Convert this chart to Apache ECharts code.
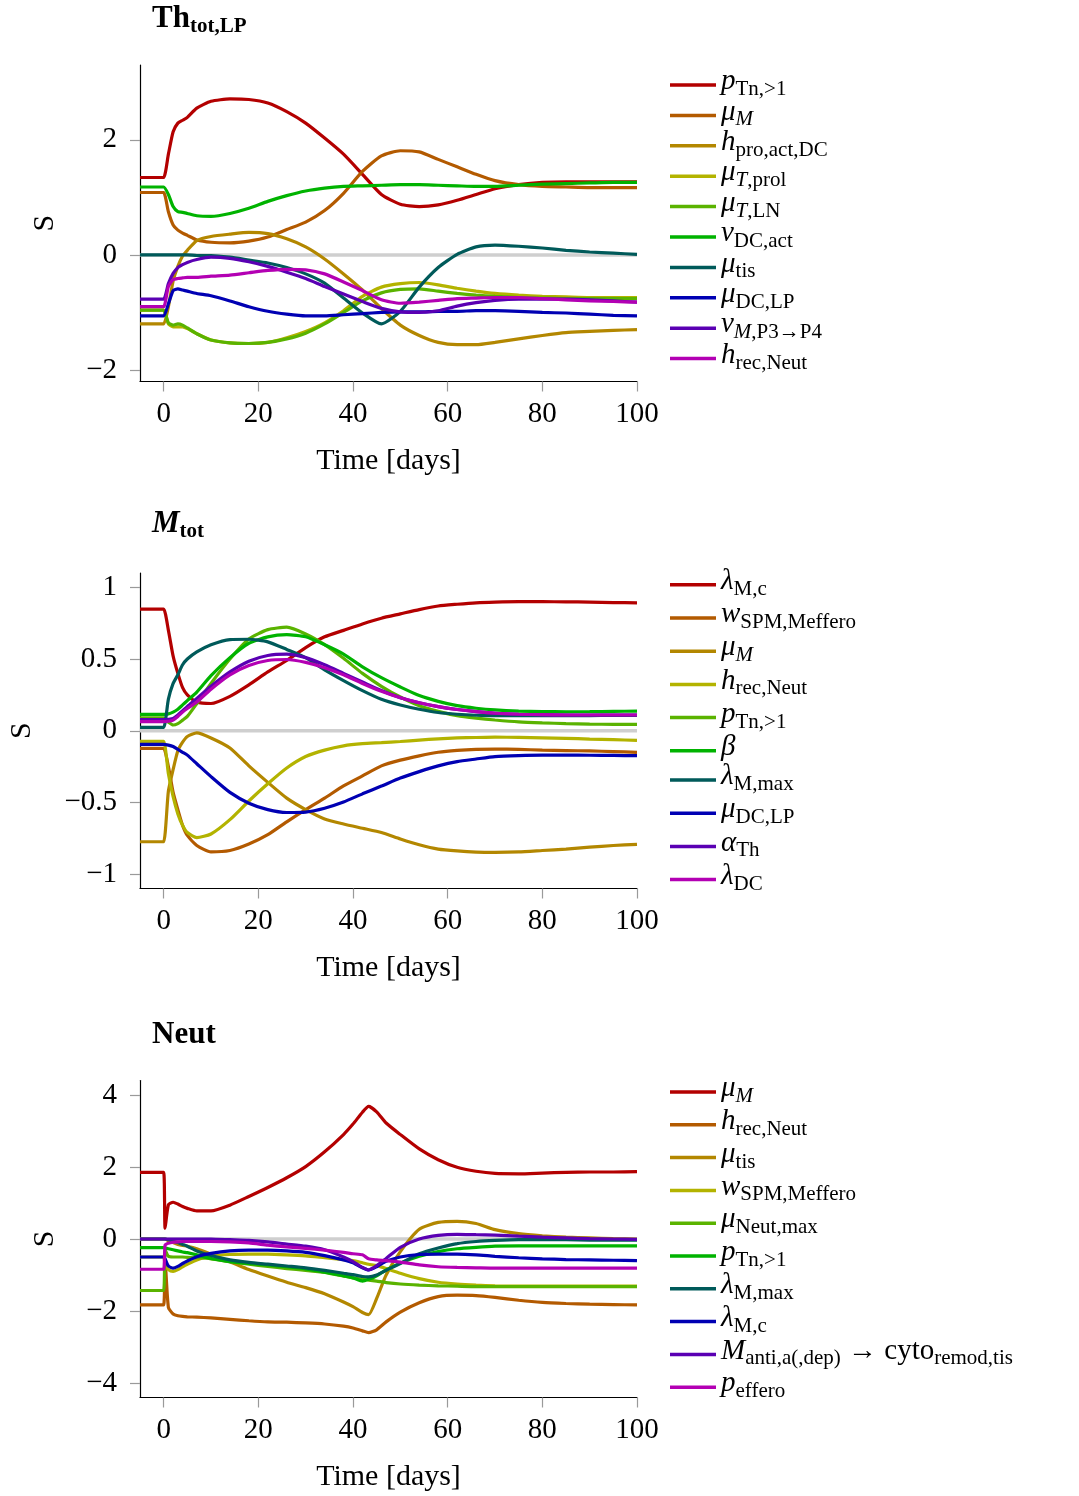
<!DOCTYPE html>
<html>
<head>
<meta charset="utf-8">
<script src="https://cdn.jsdelivr.net/npm/echarts@6/dist/echarts.min.js"></script>
<style>
  html, body { margin: 0; background: #fff; }
  #chart { width: 1079px; height: 1496px; }
</style>
</head>
<body>
<div id="chart"></div>
<script>
// ---- panel 1: Th_tot,LP ----
const thDays = [-5, -1, 0, 1, 2, 3, 4, 5, 7, 10, 14, 18, 22, 26, 30, 34, 38, 42, 46, 50, 54, 58, 62, 66, 70, 75, 80, 85, 90, 95, 100];
const th_pTn = [1.345, 1.345, 1.345, 1.75, 2.14, 2.29, 2.34, 2.39, 2.55, 2.67, 2.71, 2.70, 2.64, 2.49, 2.29, 2.03, 1.75, 1.40, 1.05, 0.88, 0.84, 0.87, 0.95, 1.05, 1.15, 1.22, 1.26, 1.27, 1.27, 1.27, 1.27];
const th_muM = [1.084, 1.084, 1.084, 0.75, 0.52, 0.43, 0.38, 0.34, 0.26, 0.22, 0.21, 0.24, 0.31, 0.44, 0.57, 0.77, 1.07, 1.45, 1.72, 1.81, 1.79, 1.66, 1.53, 1.40, 1.29, 1.22, 1.19, 1.18, 1.17, 1.17, 1.17];
const th_hPro = [-1.2, -1.2, -1.2, -0.9, -0.45, -0.2, -0.02, 0.08, 0.25, 0.32, 0.36, 0.39, 0.37, 0.28, 0.14, -0.07, -0.33, -0.61, -0.93, -1.22, -1.40, -1.52, -1.56, -1.56, -1.52, -1.46, -1.40, -1.35, -1.33, -1.31, -1.30];
const th_muTprol = [-0.96, -0.96, -0.96, -1.2, -1.25, -1.25, -1.25, -1.28, -1.37, -1.48, -1.53, -1.54, -1.52, -1.44, -1.33, -1.18, -0.97, -0.72, -0.56, -0.50, -0.48, -0.52, -0.58, -0.63, -0.67, -0.70, -0.72, -0.73, -0.74, -0.74, -0.74];
const th_muTLN = [-0.96, -0.96, -0.96, -1.18, -1.22, -1.2, -1.22, -1.27, -1.37, -1.48, -1.53, -1.54, -1.52, -1.46, -1.36, -1.2, -1.0, -0.8, -0.66, -0.60, -0.59, -0.63, -0.67, -0.70, -0.72, -0.74, -0.75, -0.76, -0.76, -0.76, -0.76];
const th_nuDC = [1.18, 1.18, 1.18, 1.05, 0.84, 0.75, 0.74, 0.72, 0.68, 0.67, 0.72, 0.81, 0.93, 1.03, 1.11, 1.16, 1.19, 1.20, 1.21, 1.22, 1.22, 1.21, 1.20, 1.19, 1.19, 1.21, 1.23, 1.24, 1.25, 1.26, 1.26];
const th_muTis = [0, 0, 0, 0, 0, 0, 0, 0, -0.01, -0.01, -0.04, -0.09, -0.14, -0.22, -0.33, -0.49, -0.75, -1.01, -1.2, -0.98, -0.56, -0.22, 0.01, 0.14, 0.17, 0.15, 0.12, 0.08, 0.05, 0.03, 0.01];
const th_muDC = [-1.06, -1.06, -1.06, -0.85, -0.62, -0.59, -0.61, -0.63, -0.67, -0.71, -0.80, -0.90, -0.98, -1.03, -1.06, -1.06, -1.04, -1.02, -1.00, -0.99, -0.99, -0.98, -0.98, -0.97, -0.97, -0.98, -1.0, -1.01, -1.03, -1.05, -1.06];
const th_nuM = [-0.77, -0.77, -0.77, -0.5, -0.32, -0.22, -0.17, -0.13, -0.08, -0.04, -0.06, -0.12, -0.2, -0.3, -0.41, -0.55, -0.68, -0.81, -0.93, -0.99, -1.0, -0.97, -0.89, -0.83, -0.79, -0.77, -0.77, -0.77, -0.78, -0.8, -0.82];
const th_hRec = [-0.9, -0.9, -0.9, -0.55, -0.43, -0.41, -0.40, -0.39, -0.39, -0.37, -0.35, -0.31, -0.27, -0.25, -0.26, -0.33, -0.47, -0.62, -0.78, -0.84, -0.82, -0.79, -0.76, -0.75, -0.74, -0.74, -0.76, -0.78, -0.8, -0.81, -0.82];
const thLabels = ['{i|p}{s|Tn,>1}', '{i|μ}{si|M}', '{i|h}{s|pro,act,DC}', '{i|μ}{si|T}{s|,prol}', '{i|μ}{si|T}{s|,LN}',
  '{i|ν}{s|DC,act}', '{i|μ}{s|tis}', '{i|μ}{s|DC,LP}', '{i|ν}{si|M}{s|,P3→P4}', '{i|h}{s|rec,Neut}'];

// ---- panel 2: M_tot ----
const mDays = thDays;
const m_lamMc = [0.848, 0.848, 0.848, 0.70, 0.52, 0.40, 0.30, 0.25, 0.20, 0.19, 0.24, 0.32, 0.41, 0.49, 0.58, 0.655, 0.70, 0.745, 0.785, 0.815, 0.845, 0.87, 0.882, 0.892, 0.897, 0.9, 0.9, 0.899, 0.897, 0.894, 0.892];
const m_wSPM = [-0.123, -0.123, -0.123, -0.25, -0.43, -0.55, -0.66, -0.73, -0.80, -0.845, -0.835, -0.79, -0.725, -0.635, -0.55, -0.47, -0.385, -0.315, -0.245, -0.205, -0.175, -0.15, -0.137, -0.13, -0.128, -0.13, -0.135, -0.138, -0.141, -0.145, -0.151];
const m_muM = [-0.774, -0.774, -0.774, -0.42, -0.27, -0.14, -0.08, -0.04, -0.015, -0.05, -0.12, -0.245, -0.36, -0.47, -0.55, -0.615, -0.65, -0.68, -0.71, -0.755, -0.795, -0.825, -0.838, -0.846, -0.848, -0.845, -0.835, -0.825, -0.812, -0.80, -0.792];
const m_hRec = [-0.074, -0.074, -0.074, -0.30, -0.46, -0.58, -0.66, -0.71, -0.745, -0.72, -0.62, -0.49, -0.37, -0.26, -0.18, -0.135, -0.105, -0.09, -0.083, -0.075, -0.065, -0.056, -0.05, -0.047, -0.045, -0.046, -0.049, -0.053, -0.058, -0.062, -0.067];
const m_pTn = [0.09, 0.09, 0.09, 0.06, 0.04, 0.05, 0.074, 0.10, 0.19, 0.33, 0.50, 0.64, 0.705, 0.722, 0.675, 0.60, 0.505, 0.40, 0.31, 0.235, 0.175, 0.135, 0.105, 0.088, 0.075, 0.062, 0.055, 0.05, 0.046, 0.045, 0.044];
const m_beta = [0.114, 0.114, 0.114, 0.118, 0.13, 0.15, 0.18, 0.21, 0.27, 0.385, 0.51, 0.61, 0.655, 0.67, 0.655, 0.60, 0.535, 0.446, 0.37, 0.305, 0.245, 0.205, 0.175, 0.157, 0.145, 0.137, 0.134, 0.132, 0.133, 0.135, 0.137];
const m_lamMmax = [0.023, 0.023, 0.023, 0.22, 0.33, 0.39, 0.46, 0.50, 0.55, 0.60, 0.636, 0.638, 0.62, 0.567, 0.51, 0.425, 0.35, 0.28, 0.22, 0.18, 0.15, 0.127, 0.115, 0.108, 0.105, 0.105, 0.105, 0.105, 0.106, 0.107, 0.107];
const m_muDC = [-0.095, -0.095, -0.095, -0.10, -0.11, -0.13, -0.15, -0.17, -0.23, -0.32, -0.43, -0.505, -0.55, -0.57, -0.567, -0.54, -0.497, -0.44, -0.386, -0.33, -0.285, -0.245, -0.215, -0.197, -0.18, -0.173, -0.17, -0.17, -0.171, -0.172, -0.174];
const m_alphaTh = [0.077, 0.077, 0.077, 0.08, 0.086, 0.11, 0.14, 0.17, 0.225, 0.31, 0.41, 0.485, 0.525, 0.534, 0.51, 0.46, 0.40, 0.34, 0.28, 0.23, 0.195, 0.168, 0.148, 0.133, 0.122, 0.115, 0.112, 0.11, 0.11, 0.11, 0.11];
const m_lamDC = [0.063, 0.063, 0.063, 0.066, 0.074, 0.10, 0.13, 0.155, 0.20, 0.29, 0.39, 0.455, 0.49, 0.497, 0.477, 0.44, 0.39, 0.33, 0.275, 0.23, 0.195, 0.168, 0.148, 0.133, 0.122, 0.115, 0.112, 0.11, 0.11, 0.11, 0.11];
const mLabels = ['{i|λ}{s|M,c}', '{i|w}{s|SPM,Meffero}', '{i|μ}{si|M}', '{i|h}{s|rec,Neut}', '{i|p}{s|Tn,>1}',
  '{i|β}', '{i|λ}{s|M,max}', '{i|μ}{s|DC,LP}', '{i|α}{s|Th}', '{i|λ}{s|DC}'];

// ---- panel 3: Neut ----
const nDays = [-5, -1, 0, 0.3, 1, 2, 3, 4, 5, 7, 10, 14, 18, 22, 26, 30, 34, 38, 40, 42, 43.3, 45, 47, 50, 54, 58, 62, 66, 70, 75, 80, 85, 90, 95, 100];
const n_muM = [1.85, 1.85, 1.85, 0.3, 0.95, 1.02, 0.97, 0.9, 0.85, 0.78, 0.78, 0.94, 1.18, 1.43, 1.7, 2.01, 2.42, 2.9, 3.19, 3.52, 3.68, 3.53, 3.22, 2.9, 2.5, 2.2, 1.99, 1.88, 1.82, 1.81, 1.83, 1.85, 1.86, 1.86, 1.87];
const n_hRec = [-1.83, -1.83, -1.83, -0.6, -1.9, -2.08, -2.13, -2.15, -2.16, -2.17, -2.19, -2.23, -2.27, -2.3, -2.31, -2.33, -2.36, -2.42, -2.47, -2.55, -2.6, -2.52, -2.3, -2.03, -1.77, -1.6, -1.56, -1.57, -1.62, -1.7, -1.76, -1.79, -1.81, -1.82, -1.83];
const n_muTis = [0, 0, 0, 0, -0.05, -0.1, -0.15, -0.18, -0.2, -0.27, -0.42, -0.63, -0.85, -1.03, -1.2, -1.35, -1.52, -1.75, -1.88, -2.04, -2.1, -1.65, -1.0, -0.35, 0.27, 0.46, 0.49, 0.43, 0.26, 0.15, 0.09, 0.05, 0.03, 0.01, 0];
const n_wSPM = [-0.5, -0.5, -0.5, -0.7, -0.85, -0.9, -0.85, -0.77, -0.7, -0.58, -0.47, -0.43, -0.42, -0.42, -0.44, -0.47, -0.52, -0.57, -0.6, -0.66, -0.7, -0.74, -0.82, -0.95, -1.1, -1.2, -1.25, -1.28, -1.3, -1.31, -1.31, -1.31, -1.31, -1.31, -1.31];
const n_muNeut = [-1.43, -1.43, -1.43, -0.3, -0.48, -0.5, -0.5, -0.5, -0.51, -0.52, -0.55, -0.63, -0.7, -0.76, -0.82, -0.87, -0.93, -1.03, -1.08, -1.12, -1.14, -1.17, -1.21, -1.25, -1.28, -1.3, -1.31, -1.32, -1.32, -1.32, -1.32, -1.32, -1.32, -1.32, -1.32];
const n_pTn = [-0.24, -0.24, -0.24, -0.25, -0.27, -0.3, -0.33, -0.36, -0.38, -0.44, -0.54, -0.63, -0.68, -0.72, -0.77, -0.83, -0.92, -1.02, -1.08, -1.17, -1.12, -1.02, -0.86, -0.67, -0.48, -0.35, -0.27, -0.23, -0.2, -0.19, -0.19, -0.19, -0.19, -0.19, -0.19];
const n_lamMmax = [0, 0, 0, 0, -0.02, -0.06, -0.1, -0.15, -0.2, -0.33, -0.46, -0.58, -0.65, -0.7, -0.75, -0.8, -0.87, -0.95, -0.99, -1.04, -1.05, -1.0, -0.87, -0.68, -0.41, -0.25, -0.13, -0.07, -0.04, -0.02, -0.02, -0.02, -0.03, -0.03, -0.03];
const n_lamMc = [-0.5, -0.5, -0.5, -0.55, -0.75, -0.81, -0.76, -0.68, -0.61, -0.49, -0.4, -0.33, -0.31, -0.31, -0.33, -0.37, -0.46, -0.58, -0.66, -0.8, -0.86, -0.77, -0.62, -0.5, -0.43, -0.42, -0.42, -0.44, -0.48, -0.52, -0.55, -0.57, -0.58, -0.59, -0.6];
const n_mAnti = [0, 0, 0, 0, 0, 0, 0, 0, 0, 0, 0, -0.02, -0.04, -0.08, -0.14, -0.2, -0.3, -0.5, -0.63, -0.79, -0.86, -0.74, -0.54, -0.23, 0.0, 0.1, 0.13, 0.12, 0.11, 0.08, 0.05, 0.03, 0.01, 0, -0.01];
const n_pEffero = [-0.84, -0.84, -0.84, -0.17, -0.12, -0.09, -0.08, -0.07, -0.07, -0.07, -0.07, -0.08, -0.11, -0.17, -0.22, -0.26, -0.31, -0.37, -0.41, -0.44, -0.55, -0.58, -0.6, -0.64, -0.72, -0.77, -0.79, -0.8, -0.81, -0.81, -0.81, -0.81, -0.81, -0.81, -0.81];
const nLabels = ['{i|μ}{si|M}', '{i|h}{s|rec,Neut}', '{i|μ}{s|tis}', '{i|w}{s|SPM,Meffero}', '{i|μ}{s|Neut,max}',
  '{i|p}{s|Tn,>1}', '{i|λ}{s|M,max}', '{i|λ}{s|M,c}', '{i|M}{s|anti,a(,dep)}{r| → cyto}{s|remod,tis}', '{i|p}{s|effero}'];

const xTicks = [0, 20, 40, 60, 80, 100];
const yTicks = [[-2, 0, 2], [-1, -0.5, 0, 0.5, 1], [-4, -2, 0, 2, 4]];
const yRange = [[-2.2, 3.3], [-1.1, 1.1], [-4.4, 4.4]];
const zeroDays = [-5, 100];
const zeroVals = [0, 0];

const colors = ['#b30000', '#b35a00', '#b38700', '#b3b300', '#5ab300', '#00b300', '#005a5a', '#0000b3', '#5a00b3', '#b300b3'];
const FONT = 'Liberation Serif';

const panels = [
  { days: thDays, values: [th_pTn, th_muM, th_hPro, th_muTprol, th_muTLN, th_nuDC, th_muTis, th_muDC, th_nuM, th_hRec], labels: thLabels },
  { days: mDays, values: [m_lamMc, m_wSPM, m_muM, m_hRec, m_pTn, m_beta, m_lamMmax, m_muDC, m_alphaTh, m_lamDC], labels: mLabels },
  { days: nDays, values: [n_muM, n_hRec, n_muTis, n_wSPM, n_muNeut, n_pTn, n_lamMmax, n_lamMc, n_mAnti, n_pEffero], labels: nLabels }
];

// layout
const gridTops = [65, 573, 1080.5];
const gridHeights = [316.5, 315.5, 317];
const legendTops = [67, 566.8, 1074];
const legendGaps = [-2.6, 0.2, -0.2];
const titleTops = [4, 509, 1020];
const yNameGaps = [80, 103, 80];
const titles = ['{b|Th}{bs|tot,LP}', '{bi|M}{bs|tot}', '{b|Neut}'];
// legend swatch: a short bar sitting a little below the label's centre
const swatch = 'path://M0,0L46,0Z M0,7L46,7L46,10.5L0,10.5Z';

const SUB_PAD = 12;
const legendRich = {
  i: { fontFamily: FONT, fontStyle: 'italic', fontSize: 29, lineHeight: 29 },
  r: { fontFamily: FONT, fontSize: 29, lineHeight: 29 },
  s: { fontFamily: FONT, fontSize: 21, lineHeight: 12, verticalAlign: 'top', padding: [SUB_PAD, 0, 0, 0] },
  si: { fontFamily: FONT, fontStyle: 'italic', fontSize: 21, lineHeight: 12, verticalAlign: 'top', padding: [SUB_PAD, 0, 0, 0] }
};
const titleRich = {
  b: { fontFamily: FONT, fontWeight: 'bold', fontSize: 31, lineHeight: 29, color: '#000' },
  bi: { fontFamily: FONT, fontWeight: 'bold', fontStyle: 'italic', fontSize: 31, lineHeight: 29, color: '#000' },
  bs: { fontFamily: FONT, fontWeight: 'bold', fontSize: 21, lineHeight: 12, verticalAlign: 'top', padding: [SUB_PAD, 0, 0, 0], color: '#000' }
};

const fmtNum = v => (v < 0 ? '\u2212' + Math.abs(v) : String(v));

const option = {
  animation: false,
  backgroundColor: '#fff',
  title: titles.map((t, p) => ({ text: t, left: 152, top: titleTops[p], padding: 0, textStyle: { color: '#000', rich: titleRich } })),
  grid: gridTops.map((t, p) => ({ left: 140, width: 497, top: t, height: gridHeights[p] })),
  xAxis: panels.map((_, p) => ({
    type: 'value', gridIndex: p, min: -5, max: 100,
    axisLine: { show: true, onZero: false, lineStyle: { color: '#000', width: 1.2 } },
    axisTick: { show: true, customValues: xTicks, length: 10, lineStyle: { color: '#9a9a9a', width: 1.2 } },
    axisLabel: { customValues: xTicks, margin: 18, fontSize: 29, fontFamily: FONT, color: '#000', formatter: fmtNum },
    splitLine: { show: false },
    name: 'Time [days]', nameLocation: 'middle', nameGap: 65,
    nameTextStyle: { fontSize: 30, fontFamily: FONT, color: '#000' }
  })),
  yAxis: panels.map((_, p) => ({
    type: 'value', gridIndex: p, min: yRange[p][0], max: yRange[p][1],
    axisLine: { show: true, onZero: false, lineStyle: { color: '#000', width: 1.2 } },
    axisTick: { show: true, customValues: yTicks[p], length: 10, lineStyle: { color: '#9a9a9a', width: 1.2 } },
    axisLabel: { customValues: yTicks[p], margin: 23, fontSize: 29, fontFamily: FONT, color: '#000', formatter: fmtNum },
    splitLine: { show: false },
    name: 'S', nameLocation: 'middle', nameRotate: 90, nameGap: yNameGaps[p],
    nameTextStyle: { fontSize: 30, fontFamily: FONT, color: '#000' }
  })),
  legend: panels.map((pan, p) => ({
    orient: 'vertical', left: 670, top: legendTops[p], padding: 0,
    itemWidth: 46, itemHeight: 10.5, itemGap: legendGaps[p], icon: swatch,
    itemStyle: { borderWidth: 0 },
    selectedMode: false,
    data: pan.labels.map(l => p + '#' + l),
    formatter: name => name.slice(name.indexOf('#') + 1),
    textStyle: { color: '#000', fontFamily: FONT, fontSize: 29, rich: legendRich }
  })),
  series: []
};

panels.forEach((pan, p) => {
  option.series.push({
    name: 'zero' + p, type: 'line', xAxisIndex: p, yAxisIndex: p, z: 1,
    data: zeroDays.map((d, k) => [d, zeroVals[k]]),
    showSymbol: false, silent: true,
    lineStyle: { color: '#cfcfcf', width: 3.5 }
  });
  pan.values.forEach((vals, k) => {
    option.series.push({
      name: p + '#' + pan.labels[k], type: 'line', xAxisIndex: p, yAxisIndex: p, z: 2,
      data: pan.days.map((d, j) => [d, vals[j]]),
      showSymbol: false, smooth: 0.2,
      itemStyle: { color: colors[k] },
      lineStyle: { color: colors[k], width: 3.2 }
    });
  });
});

const chart = echarts.init(document.getElementById('chart'), null, { renderer: 'canvas' });
chart.setOption(option);
</script>
</body>
</html>
